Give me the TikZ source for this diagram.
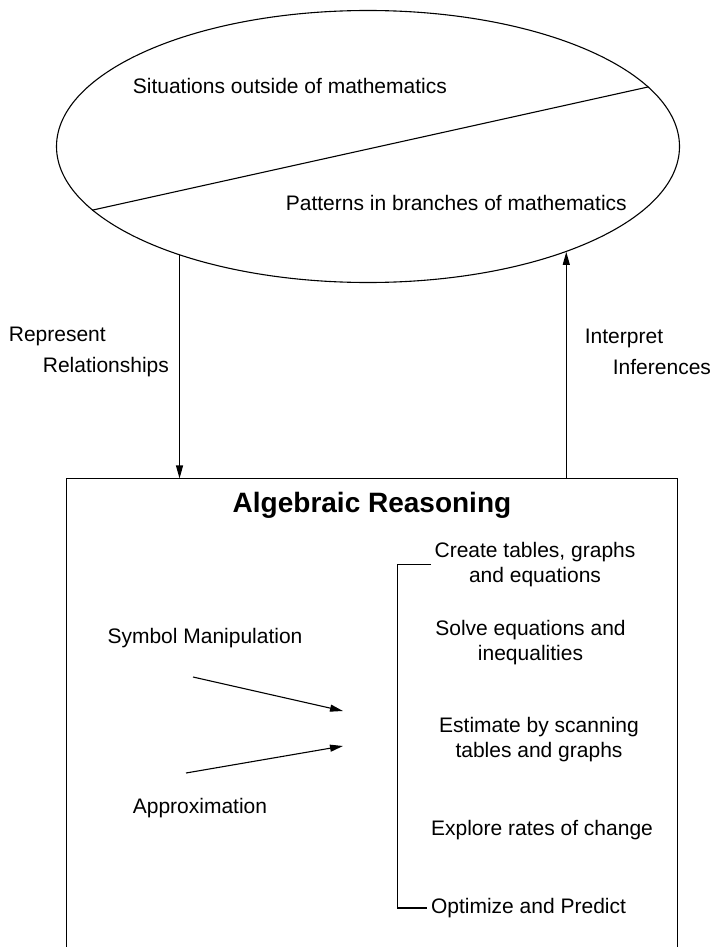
\documentclass[tikz,border=0pt]{standalone}
\usepackage{fontspec}
\setmainfont{Liberation Sans}
\usetikzlibrary{arrows.meta,shapes.geometric}

\begin{document}
\begin{tikzpicture}[x=1pt,y=-1pt,line width=1.1pt,
  every node/.style={font=\fontsize{21}{25}\selectfont},
  sidelabel/.style={align=left,font=\fontsize{21}{31}\selectfont},
  item/.style={align=center,inner sep=3pt},
  arr/.style={-{Triangle[length=13pt,width=7pt]}}]
  \useasboundingbox (0,0) rectangle (711,947);

  \node [ellipse,draw,minimum width=623,minimum height=272,inner sep=0] (world) at (368,146.5) {};
  \draw (world.193.5) -- (world.12);
  \node [anchor=west] (outside) at (129,86) {Situations outside of mathematics};
  \node [anchor=west] (patterns) at (282,203) {Patterns in branches of mathematics};

  \node [minimum width=610,minimum height=468,inner sep=0] (box) at (372,713) {};
  \draw (box.south west) |- (box.north east) -- (box.south east);
  \node [font=\bfseries\fontsize{28}{32}\selectfont] (title) at (372,505) {Algebraic Reasoning};

  \draw [arr] (world.210) -- (world.210 |- box.north);
  \draw [arr] (world.332 |- box.north) -- (world.332);
  \node [sidelabel,anchor=west] (represent) at (5,352) {Represent\\\hspace*{34pt}Relationships};
  \node [sidelabel,anchor=west] (interpret) at (581,352) {Interpret\\\hspace*{28pt}Inferences};

  \foreach \x/\y/\txt [count=\i] in {535/564.5/{Create tables, graphs\\and equations},
      530.5/643/{Solve equations and\\inequalities},
      539/739.5/{Estimate by scanning\\tables and graphs},
      542/830/{Explore rates of change},
      528.5/908/{Optimize and Predict}}
    \node [item] (r\i) at (\x,\y) {\txt};
  \draw (r1.west) -- ++(-34,0) |- (r5.west);

  \node (symbol) at (205,638) {Symbol Manipulation};
  \node (approx) at (200,808) {Approximation};
  \coordinate (symstart) at (193,677);
  \coordinate (symend) at (343,711);
  \coordinate (appstart) at (186,773);
  \coordinate (append) at (343,746);
  \draw [arr] (symstart) -- (symend);
  \draw [arr] (appstart) -- (append);
\end{tikzpicture}
\end{document}
